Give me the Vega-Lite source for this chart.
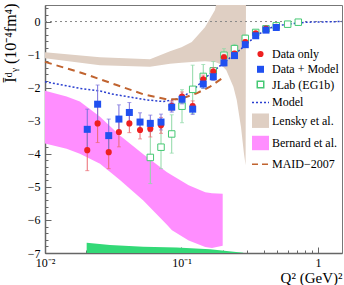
{
  "$schema": "https://vega.github.io/schema/vega-lite/v6.json",
  "width": 297,
  "height": 248,
  "autosize": {"type": "none"},
  "padding": {"left": 45, "top": 5, "right": 2, "bottom": 32},
  "background": "white",
  "config": {
    "font": "Liberation Serif",
    "view": {"stroke": "#777", "strokeWidth": 1},
    "axis": {"labelFont": "Liberation Serif", "titleFont": "Liberation Serif", "labelColor": "#000", "titleColor": "#000", "tickColor": "#666", "grid": false, "domain": false, "labelFontSize": 12, "titleFontWeight": "normal"},
    "legend": {"labelFont": "Liberation Serif", "labelFontSize": 12, "labelColor": "#000"}
  },
  "resolve": {"axis": {"x": "independent", "y": "independent"}},
  "datasets": {
    "lensky": [
      {"q2": 0.01, "hi": -0.93, "lo": -1.11},
      {"q2": 0.0253, "hi": -1.08, "lo": -1.32},
      {"q2": 0.0588, "hi": -1.14, "lo": -1.37},
      {"q2": 0.0824, "hi": -0.9, "lo": -1.28},
      {"q2": 0.1, "hi": -0.78, "lo": -1.25},
      {"q2": 0.119, "hi": -0.62, "lo": -1.22},
      {"q2": 0.1486, "hi": -0.17, "lo": -1.2},
      {"q2": 0.176, "hi": 0.35, "lo": -1.22},
      {"q2": 0.19, "hi": 1.0, "lo": -1.28},
      {"q2": 0.2, "hi": 1.0, "lo": -1.35},
      {"q2": 0.213, "hi": 1.0, "lo": -1.47},
      {"q2": 0.24, "hi": 1.0, "lo": -1.97},
      {"q2": 0.254, "hi": 1.0, "lo": -2.37},
      {"q2": 0.273, "hi": 1.0, "lo": -3.2},
      {"q2": 0.287, "hi": 1.0, "lo": -4.0},
      {"q2": 0.295, "hi": 1.0, "lo": -4.35},
      {"q2": 0.297, "hi": 1.0, "lo": 1.0}
    ],
    "bernard": [
      {"q2": 0.01, "hi": -2.09, "lo": -3.69},
      {"q2": 0.0144, "hi": -2.27, "lo": -3.85},
      {"q2": 0.018, "hi": -2.42, "lo": -4.0},
      {"q2": 0.0253, "hi": -2.88, "lo": -4.3},
      {"q2": 0.0354, "hi": -3.45, "lo": -4.79},
      {"q2": 0.0525, "hi": -4.01, "lo": -5.41},
      {"q2": 0.0779, "hi": -4.55, "lo": -6.14},
      {"q2": 0.0852, "hi": -4.65, "lo": -6.31},
      {"q2": 0.1129, "hi": -4.95, "lo": -6.62},
      {"q2": 0.1494, "hi": -5.16, "lo": -6.82},
      {"q2": 0.1673, "hi": -5.19, "lo": -6.85},
      {"q2": 0.2004, "hi": -5.21, "lo": -6.78}
    ],
    "syst": [
      {"q2": 0.0202, "top": -6.69},
      {"q2": 0.0299, "top": -6.76},
      {"q2": 0.0525, "top": -6.81},
      {"q2": 0.0922, "top": -6.83},
      {"q2": 0.1618, "top": -6.89},
      {"q2": 0.2836, "top": -6.99}
    ],
    "model": [
      {"q2": 0.01, "y": -1.82},
      {"q2": 0.018, "y": -2.02},
      {"q2": 0.0253, "y": -2.1},
      {"q2": 0.0317, "y": -2.2},
      {"q2": 0.0556, "y": -2.37},
      {"q2": 0.0736, "y": -2.42},
      {"q2": 0.0975, "y": -2.33},
      {"q2": 0.122, "y": -2.07},
      {"q2": 0.153, "y": -1.67},
      {"q2": 0.2024, "y": -1.26},
      {"q2": 0.268, "y": -0.86},
      {"q2": 0.356, "y": -0.41},
      {"q2": 0.468, "y": -0.16},
      {"q2": 0.59, "y": -0.08},
      {"q2": 0.827, "y": -0.02},
      {"q2": 1.5, "y": 0.0}
    ],
    "maid": [
      {"q2": 0.01, "y": -1.22},
      {"q2": 0.0191, "y": -1.57},
      {"q2": 0.0335, "y": -1.92},
      {"q2": 0.0525, "y": -2.2},
      {"q2": 0.0779, "y": -2.35},
      {"q2": 0.0975, "y": -2.35},
      {"q2": 0.129, "y": -2.17},
      {"q2": 0.162, "y": -1.97},
      {"q2": 0.198, "y": -1.72}
    ],
    "jlab": [
      {"q2": 0.0591, "y": -4.11, "lo": -4.9, "hi": -3.32},
      {"q2": 0.0708, "y": -3.8, "lo": -4.45, "hi": -3.15},
      {"q2": 0.0848, "y": -3.4, "lo": -3.98, "hi": -2.82},
      {"q2": 0.1009, "y": -2.56, "lo": -3.06, "hi": -2.06},
      {"q2": 0.1208, "y": -2.05, "lo": -2.78, "hi": -1.32},
      {"q2": 0.1444, "y": -1.66, "lo": -2.02, "hi": -1.3},
      {"q2": 0.171, "y": -1.49, "lo": -1.77, "hi": -1.21},
      {"q2": 0.2048, "y": -1.02, "lo": -1.22, "hi": -0.82},
      {"q2": 0.2445, "y": -0.82, "lo": -0.95, "hi": -0.69},
      {"q2": 0.2934, "y": -0.51, "lo": -0.61, "hi": -0.41},
      {"q2": 0.3497, "y": -0.33, "lo": -0.39, "hi": -0.27},
      {"q2": 0.4159, "y": -0.22, "lo": -0.27, "hi": -0.17},
      {"q2": 0.495, "y": -0.13, "lo": -0.17, "hi": -0.09},
      {"q2": 0.6, "y": -0.08, "lo": -0.11, "hi": -0.05},
      {"q2": 0.7175, "y": -0.02, "lo": -0.04, "hi": 0.0}
    ],
    "data": [
      {"series": "Data only", "q2": 0.0204, "y": -3.89, "lo": -4.51, "hi": -3.27},
      {"series": "Data only", "q2": 0.0243, "y": -3.08, "lo": -3.66, "hi": -2.5},
      {"series": "Data only", "q2": 0.0293, "y": -3.95, "lo": -4.45, "hi": -3.45},
      {"series": "Data only", "q2": 0.0348, "y": -3.34, "lo": -3.79, "hi": -2.89},
      {"series": "Data only", "q2": 0.0415, "y": -3.08, "lo": -3.36, "hi": -2.8},
      {"series": "Data only", "q2": 0.0497, "y": -3.28, "lo": -3.55, "hi": -3.01},
      {"series": "Data only", "q2": 0.0591, "y": -3.24, "lo": -3.49, "hi": -2.99},
      {"series": "Data only", "q2": 0.0708, "y": -3.14, "lo": -3.38, "hi": -2.9},
      {"series": "Data only", "q2": 0.0848, "y": -2.55, "lo": -2.7, "hi": -2.4},
      {"series": "Data only", "q2": 0.1009, "y": -2.27, "lo": -2.41, "hi": -2.13},
      {"series": "Data only", "q2": 0.1208, "y": -2.56, "lo": -2.72, "hi": -2.4},
      {"series": "Data only", "q2": 0.1444, "y": -1.75, "lo": -1.88, "hi": -1.62},
      {"series": "Data only", "q2": 0.171, "y": -1.51, "lo": -1.62, "hi": -1.4},
      {"series": "Data only", "q2": 0.2048, "y": -1.08, "lo": -1.17, "hi": -0.99},
      {"series": "Data only", "q2": 0.2445, "y": -0.97, "lo": -1.04, "hi": -0.9},
      {"series": "Data only", "q2": 0.2934, "y": -0.62, "lo": -0.68, "hi": -0.56},
      {"series": "Data only", "q2": 0.3497, "y": -0.36, "lo": -0.41, "hi": -0.31},
      {"series": "Data only", "q2": 0.4159, "y": -0.21, "lo": -0.25, "hi": -0.17},
      {"series": "Data only", "q2": 0.495, "y": -0.16, "lo": -0.19, "hi": -0.13},
      {"series": "Data + Model", "q2": 0.0204, "y": -3.26, "lo": -3.87, "hi": -2.65},
      {"series": "Data + Model", "q2": 0.0243, "y": -2.5, "lo": -3.08, "hi": -1.92},
      {"series": "Data + Model", "q2": 0.0293, "y": -3.45, "lo": -3.95, "hi": -2.95},
      {"series": "Data + Model", "q2": 0.0348, "y": -2.95, "lo": -3.38, "hi": -2.52},
      {"series": "Data + Model", "q2": 0.0415, "y": -2.75, "lo": -3.05, "hi": -2.45},
      {"series": "Data + Model", "q2": 0.0497, "y": -3.04, "lo": -3.32, "hi": -2.76},
      {"series": "Data + Model", "q2": 0.0591, "y": -3.08, "lo": -3.33, "hi": -2.83},
      {"series": "Data + Model", "q2": 0.0708, "y": -3.04, "lo": -3.28, "hi": -2.8},
      {"series": "Data + Model", "q2": 0.0848, "y": -2.59, "lo": -2.74, "hi": -2.44},
      {"series": "Data + Model", "q2": 0.1009, "y": -2.35, "lo": -2.49, "hi": -2.21},
      {"series": "Data + Model", "q2": 0.1208, "y": -2.65, "lo": -2.81, "hi": -2.49},
      {"series": "Data + Model", "q2": 0.1444, "y": -1.89, "lo": -2.02, "hi": -1.76},
      {"series": "Data + Model", "q2": 0.171, "y": -1.67, "lo": -1.78, "hi": -1.56},
      {"series": "Data + Model", "q2": 0.2048, "y": -1.25, "lo": -1.34, "hi": -1.16},
      {"series": "Data + Model", "q2": 0.2445, "y": -1.03, "lo": -1.1, "hi": -0.96},
      {"series": "Data + Model", "q2": 0.2934, "y": -0.7, "lo": -0.76, "hi": -0.64},
      {"series": "Data + Model", "q2": 0.3497, "y": -0.43, "lo": -0.48, "hi": -0.38},
      {"series": "Data + Model", "q2": 0.4159, "y": -0.26, "lo": -0.3, "hi": -0.22},
      {"series": "Data + Model", "q2": 0.495, "y": -0.18, "lo": -0.21, "hi": -0.15}
    ]
  },
  "layer": [
    {
      "data": {"name": "lensky"},
      "mark": {"type": "area", "color": "#dfcfc3", "clip": true},
      "encoding": {
        "x": {"field": "q2", "type": "quantitative", "scale": {"type": "log", "domain": [0.01, 1.5], "nice": false},
          "axis": {"orient": "bottom", "values": [0.01, 0.1, 1], "labelExpr": "datum.value < 0.05 ? '10⁻²' : datum.value < 0.5 ? '10⁻¹' : '1'", "tickSize": -6, "labelPadding": 10, "labelBaseline": "top", "labelFlush": false, "labelOverlap": false, "domain": true, "domainColor": "#666", "domainWidth": 1.5,
            "title": "Q² (GeV)²", "titleFontSize": 15, "titleAnchor": "end", "titleAlign": "right", "titleX": 297, "titleY": 29, "titleBaseline": "alphabetic"}},
        "y": {"field": "hi", "type": "quantitative", "scale": {"domain": [-7, 0.5], "nice": false, "zero": false},
          "axis": {"orient": "left", "values": [-7, -6, -5, -4, -3, -2, -1, 0], "tickSize": -6, "labelPadding": 11, "labelOverlap": false, "labelFlush": false, "domain": true, "domainColor": "#666", "domainWidth": 1.5,
            "title": "Īᵈᵧ (10⁻⁴fm⁴)", "titleFontSize": 16, "titleAngle": 270, "titleX": -27, "titleY": -2, "titleAlign": "right", "titleBaseline": "bottom"}},
        "y2": {"field": "lo"}
      }
    },
    {
      "data": {"name": "bernard"},
      "mark": {"type": "area", "color": "#ff8eff"},
      "encoding": {
        "x": {"field": "q2", "type": "quantitative", "scale": {"type": "log", "domain": [0.01, 1.5], "nice": false},
          "axis": {"orient": "bottom", "values": [0.02, 0.03, 0.04, 0.05, 0.06, 0.07, 0.08, 0.09, 0.2, 0.3, 0.4, 0.5, 0.6, 0.7, 0.8, 0.9], "tickSize": -3, "labels": false, "title": null}},
        "y": {"field": "hi", "type": "quantitative", "scale": {"domain": [-7, 0.5], "nice": false, "zero": false},
          "axis": {"orient": "left", "values": [-6.8, -6.6, -6.4, -6.2, -5.8, -5.6, -5.4, -5.2, -4.8, -4.6, -4.4, -4.2, -3.8, -3.6, -3.4, -3.2, -2.8, -2.6, -2.4, -2.2, -1.8, -1.6, -1.4, -1.2, -0.8, -0.6, -0.4, -0.2, 0.2, 0.4], "tickSize": -3, "labels": false, "title": null}},
        "y2": {"field": "lo"}
      }
    },
    {
      "data": {"name": "syst"},
      "mark": {"type": "area", "color": "#33d977"},
      "encoding": {
        "x": {"field": "q2", "type": "quantitative", "axis": null},
        "y": {"field": "top", "type": "quantitative", "axis": null},
        "y2": {"datum": -7}
      }
    },
    {
      "data": {"values": [{}]},
      "mark": {"type": "rule", "color": "#888", "strokeDash": [2, 3], "strokeWidth": 1},
      "encoding": {"y": {"datum": 0, "type": "quantitative", "axis": null}}
    },
    {
      "data": {"name": "model"},
      "mark": {"type": "line", "color": "#2a3fd0", "strokeDash": [2, 2], "strokeWidth": 1.5},
      "encoding": {
        "x": {"field": "q2", "type": "quantitative", "axis": null},
        "y": {"field": "y", "type": "quantitative", "axis": null}
      }
    },
    {
      "data": {"name": "maid"},
      "mark": {"type": "line", "color": "#c0632f", "strokeDash": [7, 5], "strokeWidth": 2},
      "encoding": {
        "x": {"field": "q2", "type": "quantitative", "axis": null},
        "y": {"field": "y", "type": "quantitative", "axis": null}
      }
    },
    {
      "data": {"name": "jlab"},
      "mark": {"type": "errorbar", "color": "#8fd9a6", "ticks": {"size": 4, "thickness": 1}, "thickness": 1},
      "encoding": {
        "x": {"field": "q2", "type": "quantitative", "axis": null},
        "y": {"field": "lo", "type": "quantitative", "axis": null, "title": null},
        "y2": {"field": "hi"}
      }
    },
    {
      "data": {"name": "jlab"},
      "mark": {"type": "point", "shape": "square", "size": 42, "fill": "white", "stroke": "#44c873", "strokeWidth": 1, "opacity": 1, "filled": true},
      "encoding": {
        "x": {"field": "q2", "type": "quantitative", "axis": null},
        "y": {"field": "y", "type": "quantitative", "axis": null}
      }
    },
    {
      "data": {"name": "data"},
      "mark": {"type": "errorbar", "ticks": {"size": 4, "thickness": 1}, "thickness": 1},
      "encoding": {
        "x": {"field": "q2", "type": "quantitative", "axis": null},
        "y": {"field": "lo", "type": "quantitative", "axis": null, "title": null},
        "y2": {"field": "hi"},
        "color": {"field": "series", "type": "nominal", "scale": {"domain": ["Data only", "Data + Model"], "range": ["#eb6a72", "#7a70dc"]}, "legend": null}
      }
    },
    {
      "data": {"name": "data"},
      "mark": {"type": "point", "filled": true, "opacity": 1, "strokeWidth": 1},
      "encoding": {
        "x": {"field": "q2", "type": "quantitative", "axis": null},
        "y": {"field": "y", "type": "quantitative", "axis": null},
        "fill": {"field": "series", "type": "nominal",
          "scale": {"domain": ["Data only", "Data + Model", "JLab (EG1b)", "Model", "Lensky et al.", "Bernard et al.", "MAID−2007"],
                    "range": ["#ee2020", "#2050f0", "white", "transparent", "#dfcfc3", "#ff8eff", "transparent"]},
          "legend": {"orient": "none", "legendX": 206, "legendY": 43, "title": null, "labelFont": "Liberation Serif", "labelFontSize": 12, "labelOffset": 2, "rowPadding": 1.3, "symbolStrokeWidth": 1.5, "padding": 0}},
        "stroke": {"field": "series", "type": "nominal",
          "scale": {"domain": ["Data only", "Data + Model", "JLab (EG1b)", "Model", "Lensky et al.", "Bernard et al.", "MAID−2007"],
                    "range": ["transparent", "transparent", "#44c873", "#2a3fd0", "transparent", "transparent", "#c0632f"]},
          "legend": {"orient": "none", "legendX": 206, "legendY": 43, "title": null, "labelFont": "Liberation Serif", "labelFontSize": 12, "labelOffset": 2, "rowPadding": 1.3, "symbolStrokeWidth": 1.5, "padding": 0}},
        "shape": {"field": "series", "type": "nominal",
          "scale": {"domain": ["Data only", "Data + Model", "JLab (EG1b)", "Model", "Lensky et al.", "Bernard et al.", "MAID−2007"],
                    "range": ["circle", "square", "square", "M-1,0H1", "M-1,-0.85H1V0.85H-1Z", "M-1,-0.85H1V0.85H-1Z", "M-1,0H1"]},
          "legend": {"orient": "none", "legendX": 206, "legendY": 43, "title": null, "labelFont": "Liberation Serif", "labelFontSize": 12, "labelOffset": 2, "rowPadding": 1.3, "symbolStrokeWidth": 1.5, "padding": 0}},
        "size": {"field": "series", "type": "nominal",
          "scale": {"type": "ordinal", "domain": ["Data only", "Data + Model", "JLab (EG1b)", "Model", "Lensky et al.", "Bernard et al.", "MAID−2007"],
                    "range": [38, 49, 42, 289, 289, 289, 289]},
          "legend": {"orient": "none", "legendX": 206, "legendY": 43, "title": null, "labelFont": "Liberation Serif", "labelFontSize": 12, "labelOffset": 2, "rowPadding": 1.3, "symbolStrokeWidth": 1.5, "padding": 0}},
        "strokeDash": {"field": "series", "type": "nominal",
          "scale": {"domain": ["Data only", "Data + Model", "JLab (EG1b)", "Model", "Lensky et al.", "Bernard et al.", "MAID−2007"],
                    "range": [[1, 0], [1, 0], [1, 0], [2, 2], [1, 0], [1, 0], [6, 4]]},
          "legend": {"orient": "none", "legendX": 206, "legendY": 43, "title": null, "labelFont": "Liberation Serif", "labelFontSize": 12, "labelOffset": 2, "rowPadding": 1.3, "symbolStrokeWidth": 1.5, "padding": 0}}
      }
    }
  ]
}
